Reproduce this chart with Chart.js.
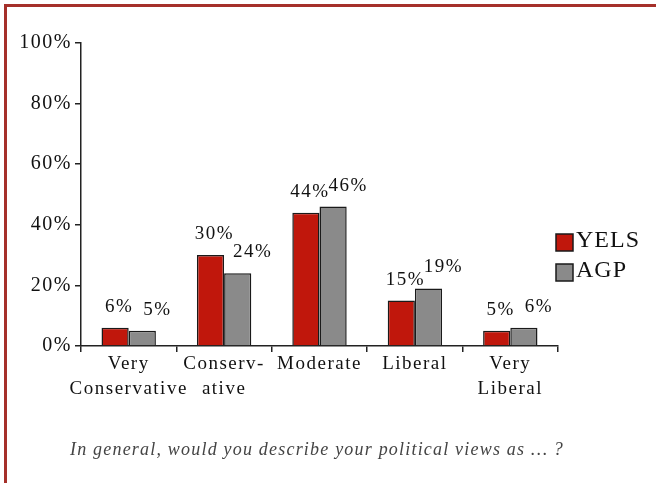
<!DOCTYPE html>
<html>
<head>
<meta charset="utf-8">
<script src="https://cdn.jsdelivr.net/npm/chart.js@4.4.0/dist/chart.umd.min.js"></script>
<style>
  html, body { margin: 0; padding: 0; background: #fff; }
  #wrap { position: relative; width: 656px; height: 483px; overflow: hidden; }
  #wrap canvas { position: absolute; left: 0; top: 0; }
  .edge-top { position: absolute; left: 4px; top: 4px; width: 652px; height: 3px; background: #a5302a; }
  .edge-left { position: absolute; left: 4px; top: 4px; width: 3px; height: 479px; background: #a5302a; }
</style>
</head>
<body>
<div id="wrap">
  <canvas id="views-chart" width="656" height="483"></canvas>
  <div class="edge-top"></div>
  <div class="edge-left"></div>
</div>
<script>
// political views, two survey groups
const categories = [['Very', 'Conservative'], ['Conserv-', 'ative'], 'Moderate', 'Liberal', ['Very', 'Liberal']];
const yelsValues = [6, 30, 44, 15, 5];
const agpValues = [5, 24, 46, 19, 6];
const seriesNames = ['YELS', 'AGP'];
const tickLabels = ['0%', '20%', '40%', '60%', '80%', '100%'];
const question = 'In general, would you describe your political views as \u2026 ?';

const serif = '"Liberation Serif", "Times New Roman", serif';
const barColors = ['#c0170c', '#8a8a8a'];
const ink = '#111';

// canvas letter spacing gets reset with the context, so set it before layout and draw
const spacing = {
  id: 'spacing',
  beforeLayout(chart) { chart.ctx.letterSpacing = '1.5px'; },
  beforeDraw(chart) { chart.ctx.letterSpacing = '1.5px'; }
};

// percentage over each bar
const valueLabels = {
  id: 'valueLabels',
  afterDatasetsDraw(chart) {
    const ctx = chart.ctx;
    ctx.save();
    ctx.font = '19px ' + serif;
    ctx.letterSpacing = '1.5px';
    ctx.fillStyle = ink;
    ctx.textAlign = 'center';
    ctx.textBaseline = 'middle';
    chart.data.datasets.forEach((ds, i) => {
      const shift = i === 0 ? 4 : 15;
      chart.getDatasetMeta(i).data.forEach((bar, j) => {
        ctx.fillText(ds.data[j] + '%', bar.x + shift, bar.y - 21);
      });
    });
    ctx.restore();
  }
};

// legend boxes to the right of the plot, question underneath
const sideLegend = {
  id: 'sideLegend',
  afterDraw(chart) {
    const ctx = chart.ctx;
    const x = chart.chartArea.right - 2;
    ctx.save();
    ctx.font = '24px ' + serif;
    ctx.letterSpacing = '1px';
    ctx.textBaseline = 'middle';
    chart.data.datasets.forEach((ds, i) => {
      const cy = 242 + i * 30;
      ctx.fillStyle = ds.backgroundColor;
      ctx.fillRect(x, cy - 8, 17, 17);
      ctx.strokeStyle = '#1a1a1a';
      ctx.lineWidth = 1.5;
      ctx.strokeRect(x, cy - 8, 17, 17);
      ctx.fillStyle = ink;
      ctx.fillText(ds.label, x + 20, cy - 1);
    });

    ctx.font = 'italic 18px ' + serif;
    ctx.letterSpacing = '1.2px';
    ctx.fillStyle = '#444';
    ctx.textAlign = 'center';
    ctx.fillText(question, 317, chart.chartArea.bottom + 104);
    ctx.restore();
  }
};

const chartCanvas = document.querySelector('#views-chart');

new Chart(chartCanvas, {
  type: 'bar',
  data: {
    labels: categories,
    datasets: [
      {
        label: seriesNames[0],
        data: yelsValues,
        backgroundColor: barColors[0],
        borderColor: '#1a1a1a',
        borderWidth: 1.5
      },
      {
        label: seriesNames[1],
        data: agpValues,
        backgroundColor: barColors[1],
        borderColor: '#1a1a1a',
        borderWidth: 1.5
      }
    ]
  },
  options: {
    responsive: false,
    animation: false,
    layout: {
      padding: { top: 43, right: 98, bottom: 0, left: 0 }
    },
    datasets: {
      bar: { categoryPercentage: 0.57, barPercentage: 1.0 }
    },
    plugins: {
      legend: { display: false },
      tooltip: { enabled: false }
    },
    scales: {
      x: {
        offset: true,
        grid: {
          offset: true,
          drawOnChartArea: false,
          tickLength: 6,
          color: '#222',
          lineWidth: 1.5
        },
        border: { color: '#222', width: 1.5 },
        ticks: {
          color: ink,
          padding: 0,
          maxRotation: 0,
          autoSkip: false,
          font: { family: serif, size: 19, lineHeight: '25px' }
        },
        afterFit(scale) { scale.height = 137; }
      },
      y: {
        min: 0,
        max: 100,
        grid: {
          drawOnChartArea: false,
          tickLength: 6,
          color: '#222',
          lineWidth: 1.5
        },
        border: { color: '#222', width: 1.5 },
        ticks: {
          stepSize: 20,
          color: ink,
          padding: 3,
          font: { family: serif, size: 20 },
          callback: (value, index) => tickLabels[index]
        },
        afterFit(scale) { scale.width = 81; }
      }
    }
  },
  plugins: [spacing, valueLabels, sideLegend]
});
</script>
</body>
</html>
